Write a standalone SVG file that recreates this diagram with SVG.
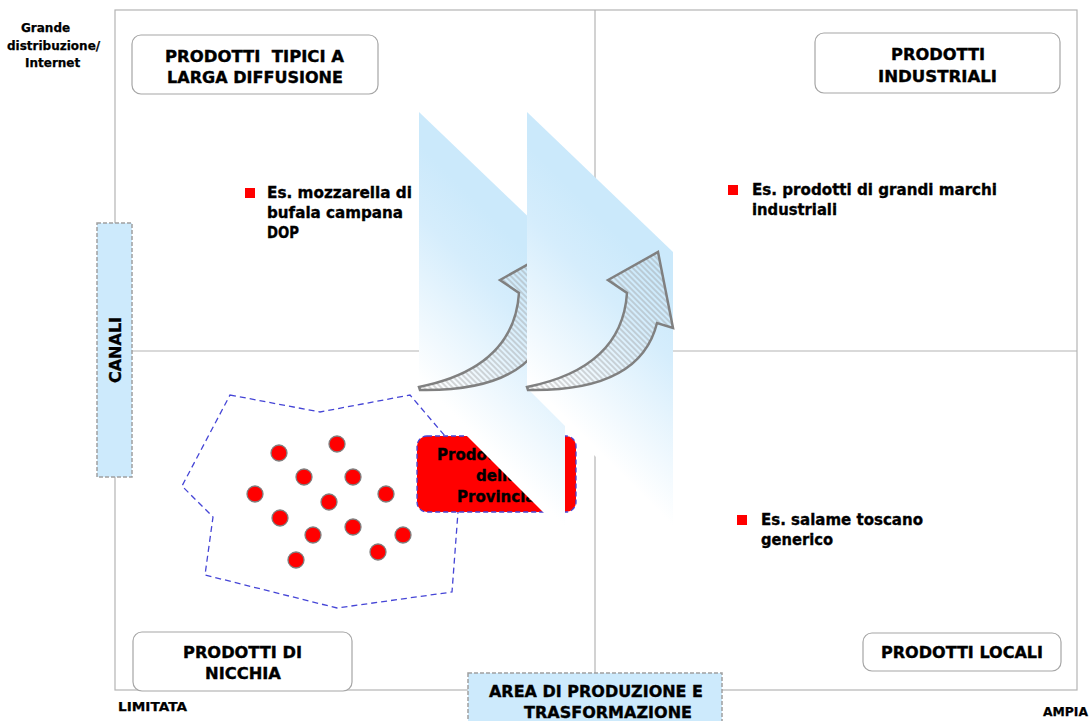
<svg xmlns="http://www.w3.org/2000/svg" width="1089" height="721" viewBox="0 0 1089 721">
<style>
text{font-family:"DejaVu Sans","Liberation Sans",sans-serif;font-weight:bold;fill:#000;stroke:#000;stroke-width:0.35;white-space:pre}
.t15{font-size:15px}
.t12{font-size:12px;stroke-width:0.25}
.grid{stroke:#b4b4b4;stroke-width:1.2;fill:none}
.box{fill:#fff;stroke:#a6a6a6;stroke-width:1.2}
.bul{fill:#ff0000}
.dot{fill:#ff0000;stroke:#7f7f7f;stroke-width:1.3}
.dash{fill:#cdeafc;stroke:#a0a0a0;stroke-width:1.5;stroke-dasharray:4 2}
.arrow{fill:url(#hatch);stroke:#808080;stroke-width:2.5;stroke-linejoin:miter}
</style>
<defs>
<linearGradient id="g1" gradientUnits="userSpaceOnUse" x1="565" y1="290" x2="447" y2="408">
<stop offset="0" stop-color="#cbe9fb"/><stop offset="0.3" stop-color="#d5edfc"/><stop offset="1" stop-color="#ffffff"/>
</linearGradient>
<linearGradient id="g2" gradientUnits="userSpaceOnUse" x1="673" y1="290" x2="555" y2="408">
<stop offset="0" stop-color="#cbe9fb"/><stop offset="0.3" stop-color="#d5edfc"/><stop offset="1" stop-color="#ffffff"/>
</linearGradient>
<pattern id="hatch" patternUnits="userSpaceOnUse" width="4" height="4" patternTransform="rotate(45)">
<line x1="0" y1="2" x2="4" y2="2" stroke="#9a9a9a" stroke-width="0.8"/>
</pattern>
</defs>
<rect width="1089" height="721" fill="#fff"/>

<g id="grid">
<rect class="grid" x="115" y="10" width="962" height="680"/>
<line class="grid" x1="595" y1="10" x2="595" y2="690"/>
<line class="grid" x1="115" y1="351" x2="1077" y2="351"/>
</g>

<g id="node-tipici">
<rect class="box" x="132" y="35" width="246" height="59" rx="9"/>
<text class="t15" x="165" y="62" textLength="179" lengthAdjust="spacingAndGlyphs">PRODOTTI  TIPICI A</text>
<text class="t15" x="167" y="83" textLength="176" lengthAdjust="spacingAndGlyphs">LARGA DIFFUSIONE</text>
</g>
<g id="node-industriali">
<rect class="box" x="815" y="33" width="245" height="60" rx="9"/>
<text class="t15" x="891" y="60" textLength="94" lengthAdjust="spacingAndGlyphs">PRODOTTI</text>
<text class="t15" x="878" y="82" textLength="119" lengthAdjust="spacingAndGlyphs">INDUSTRIALI</text>
</g>
<g id="node-nicchia">
<rect class="box" x="133" y="632" width="219" height="59" rx="9"/>
<text class="t15" x="183" y="658" textLength="119" lengthAdjust="spacingAndGlyphs">PRODOTTI DI</text>
<text class="t15" x="205" y="679" textLength="76" lengthAdjust="spacingAndGlyphs">NICCHIA</text>
</g>
<g id="node-locali">
<rect class="box" x="863" y="633" width="198" height="38" rx="9"/>
<text class="t15" x="881" y="658" textLength="162" lengthAdjust="spacingAndGlyphs">PRODOTTI LOCALI</text>
</g>

<g id="ex-mozzarella">
<rect class="bul" x="245" y="188" width="10" height="10"/>
<text class="t15" x="267" y="198" textLength="145" lengthAdjust="spacingAndGlyphs">Es. mozzarella di</text>
<text class="t15" x="267" y="218" textLength="136" lengthAdjust="spacingAndGlyphs">bufala campana</text>
<text class="t15" x="267" y="238" textLength="32" lengthAdjust="spacingAndGlyphs">DOP</text>
</g>
<g id="ex-marchi">
<rect class="bul" x="728" y="185" width="10" height="10"/>
<text class="t15" x="752" y="195" textLength="245" lengthAdjust="spacingAndGlyphs">Es. prodotti di grandi marchi</text>
<text class="t15" x="752" y="215" textLength="85" lengthAdjust="spacingAndGlyphs">industriali</text>
</g>
<g id="ex-salame">
<rect class="bul" x="737" y="515" width="10" height="10"/>
<text class="t15" x="761" y="525" textLength="162" lengthAdjust="spacingAndGlyphs">Es. salame toscano</text>
<text class="t15" x="761" y="545" textLength="72" lengthAdjust="spacingAndGlyphs">generico</text>
</g>

<g id="cluster">
<polygon points="230,395 320,412 410,395 445,436 458,512 452,592 337,608 205,575 213,517 182,486" fill="none" stroke="#4545d6" stroke-width="1.3" stroke-dasharray="6 4"/>
<circle class="dot" cx="279" cy="453" r="8"/>
<circle class="dot" cx="337" cy="444" r="8"/>
<circle class="dot" cx="304" cy="477" r="8"/>
<circle class="dot" cx="353" cy="477" r="8"/>
<circle class="dot" cx="255" cy="494" r="8"/>
<circle class="dot" cx="329" cy="502" r="8"/>
<circle class="dot" cx="386" cy="494" r="8"/>
<circle class="dot" cx="280" cy="518" r="8"/>
<circle class="dot" cx="313" cy="535" r="8"/>
<circle class="dot" cx="353" cy="527" r="8"/>
<circle class="dot" cx="403" cy="535" r="8"/>
<circle class="dot" cx="378" cy="552" r="8"/>
<circle class="dot" cx="296" cy="560" r="8"/>
</g>

<g id="node-provincia">
<rect x="417" y="436" width="159" height="76" rx="10" fill="#ff0000" stroke="#4545d6" stroke-width="1.3" stroke-dasharray="5 3"/>
<text class="t15" x="437" y="460">Prodotti</text>
<text class="t15" x="476" y="481">della</text>
<text class="t15" x="457" y="502">Provincia</text>
</g>

<g id="connectors">
<polygon points="419,112 565,252 565,534 419,388" fill="url(#g1)"/>
<path class="arrow" d="M419,387 Q514,368 519,293 L500,280 L550,252 L565,328 L549,323 Q532,392 420,390 Z"/>
<polygon points="527,112 673,252 673,534 527,388" fill="url(#g2)"/>
<path class="arrow" d="M527,387 Q622,368 627,293 L608,280 L658,252 L673,328 L657,323 Q640,392 528,390 Z"/>
</g>

<g id="axis-canali">
<rect class="dash" x="97" y="223" width="35" height="254"/>
<text class="t15" style="font-size:16px" transform="translate(121,350) rotate(-90)" text-anchor="middle">CANALI</text>
</g>
<g id="axis-area">
<rect class="dash" x="468" y="673" width="254" height="60"/>
<text class="t15" x="489" y="697" textLength="214" lengthAdjust="spacingAndGlyphs">AREA DI PRODUZIONE E</text>
<text class="t15" x="524" y="718" textLength="168" lengthAdjust="spacingAndGlyphs">TRASFORMAZIONE</text>
</g>
<g id="axis-labels">
<text class="t12" x="21" y="32">Grande</text>
<text class="t12" x="7" y="50">distribuzione/</text>
<text class="t12" x="25" y="67">Internet</text>
<text class="t12" x="118" y="711" textLength="69" lengthAdjust="spacingAndGlyphs">LIMITATA</text>
<text class="t12" x="1043" y="716" textLength="45" lengthAdjust="spacingAndGlyphs">AMPIA</text>
</g>
</svg>
